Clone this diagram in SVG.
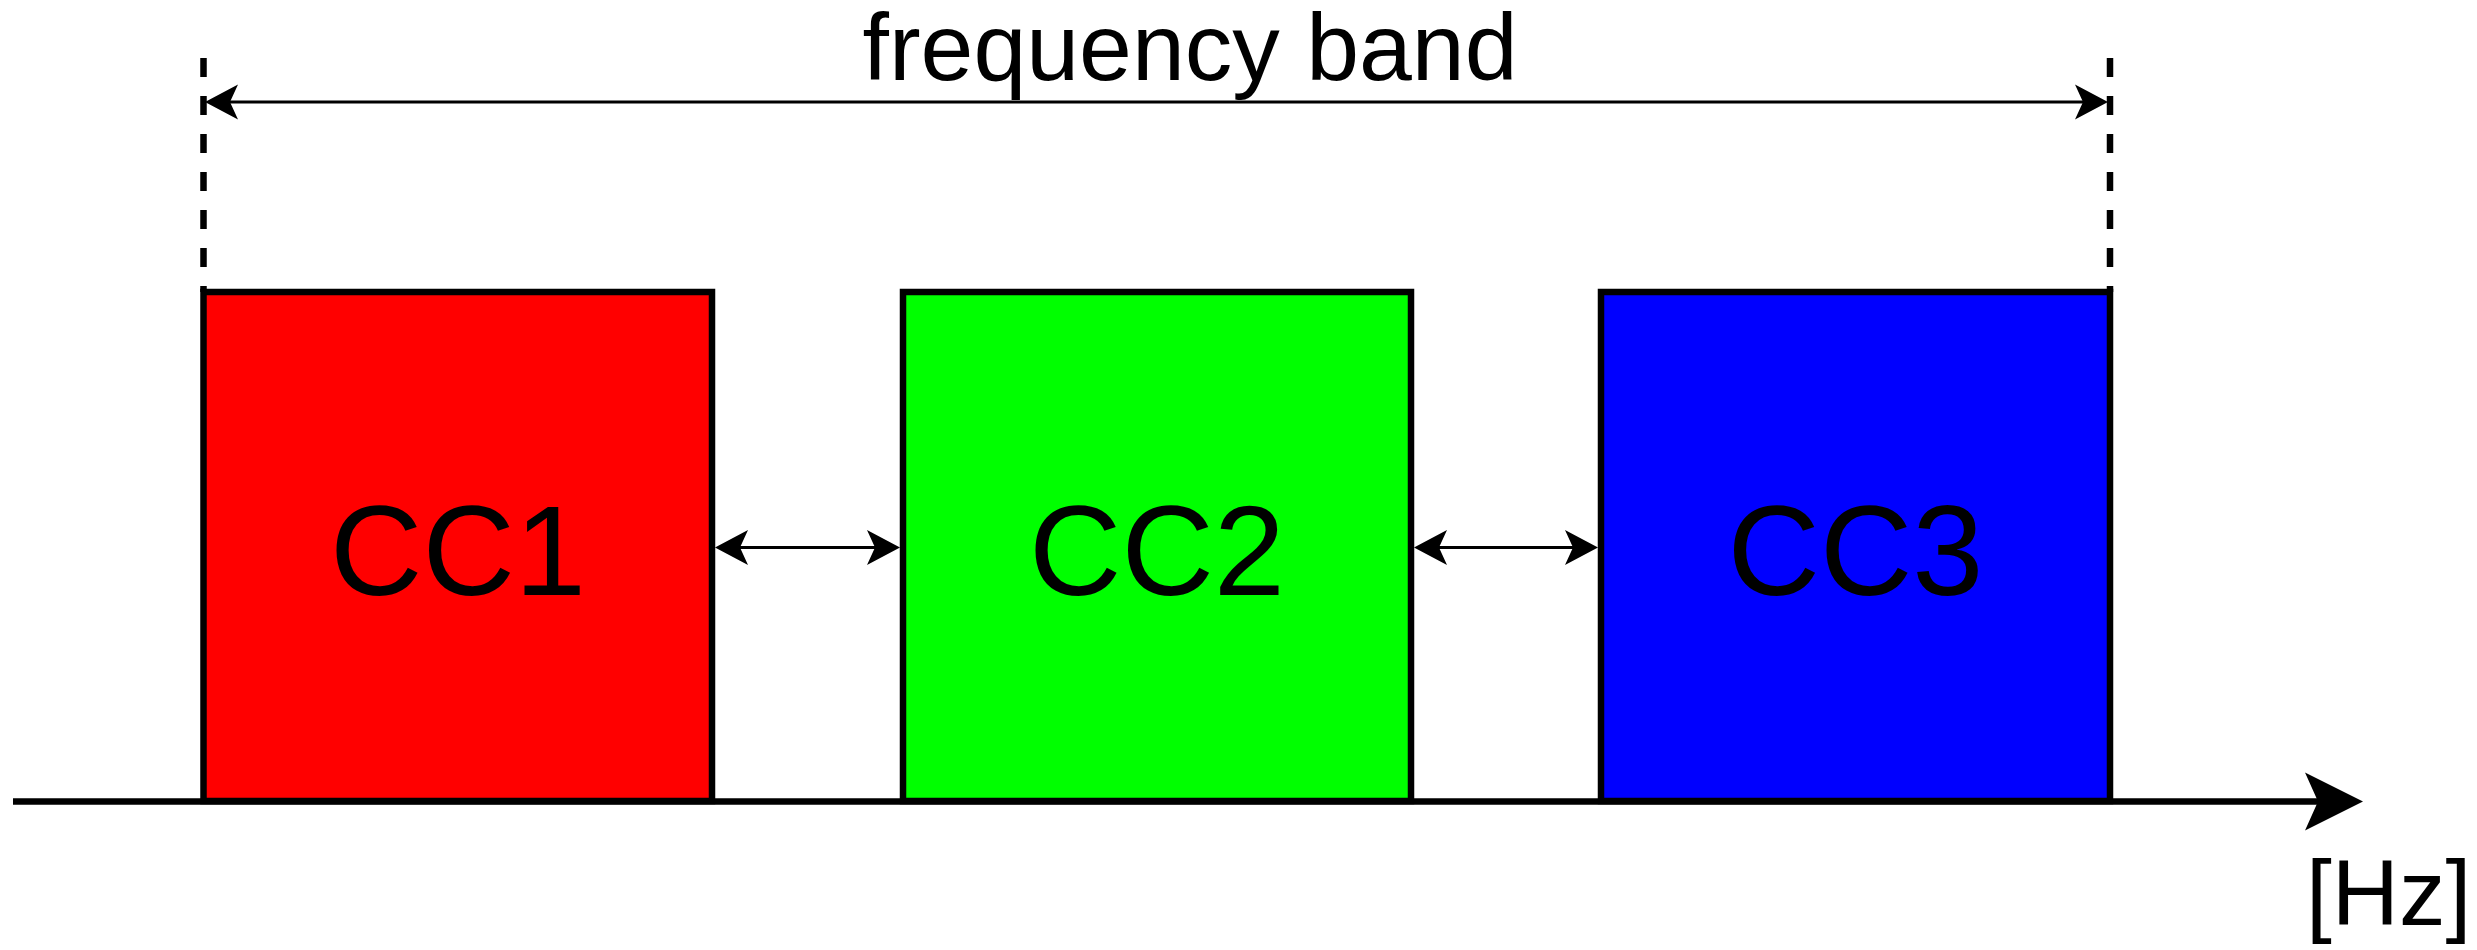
<svg xmlns="http://www.w3.org/2000/svg" width="2477" height="950" viewBox="0 0 2477 950">
<style>
  .box { stroke: #000; stroke-width: 6.5; }
  .lbl { font-family: "Liberation Sans", Arial, sans-serif; fill: #000; }
  .dash { stroke: #000; stroke-width: 6.5; stroke-dasharray: 19 19; fill: none; }
  .conn { stroke: #000; stroke-width: 3; fill: none; }
</style>
<defs>
  <marker id="ah" markerUnits="userSpaceOnUse" orient="auto-start-reverse" refX="0" refY="0" markerWidth="40" markerHeight="40" overflow="visible">
    <path d="M25,0 L-8,-17.5 L0,0 L-8,17.5 Z" fill="#000"/>
  </marker>
  <marker id="axh" markerUnits="userSpaceOnUse" orient="auto" refX="0" refY="0" markerWidth="60" markerHeight="60" overflow="visible">
    <path d="M45,0 L-13,-29 L0,0 L-13,29 Z" fill="#000"/>
  </marker>
</defs>
<rect width="2477" height="950" fill="#fff"/>

<g id="band-markers">
  <line class="dash" x1="203.5" y1="58" x2="203.5" y2="292"/>
  <line class="dash" x1="2110" y1="58" x2="2110" y2="292"/>
</g>

<g id="cc1">
  <rect class="box" x="203.5" y="292" width="508.5" height="509" fill="#FF0000"/>
  <text class="lbl" x="458" y="595" font-size="128" text-anchor="middle">CC1</text>
</g>
<g id="cc2">
  <rect class="box" x="903" y="292" width="508" height="509" fill="#00FF00"/>
  <text class="lbl" x="1157" y="595" font-size="128" text-anchor="middle">CC2</text>
</g>
<g id="cc3">
  <rect class="box" x="1601" y="292" width="509" height="509" fill="#0000FF"/>
  <text class="lbl" x="1855.5" y="595" font-size="128" text-anchor="middle">CC3</text>
</g>

<g id="connectors">
  <line class="conn" x1="230" y1="102" x2="2083" y2="102" marker-start="url(#ah)" marker-end="url(#ah)"/>
  <line class="conn" x1="740" y1="547.5" x2="875" y2="547.5" marker-start="url(#ah)" marker-end="url(#ah)"/>
  <line class="conn" x1="1439" y1="547.5" x2="1573" y2="547.5" marker-start="url(#ah)" marker-end="url(#ah)"/>
  <line x1="13" y1="801.5" x2="2318" y2="801.5" stroke="#000" stroke-width="6.5" marker-end="url(#axh)"/>
</g>

<g id="labels">
  <text class="lbl" x="1190" y="80" font-size="95" text-anchor="middle">frequency band</text>
  <text class="lbl" x="2306" y="925" font-size="93">[Hz]</text>
</g>
</svg>
